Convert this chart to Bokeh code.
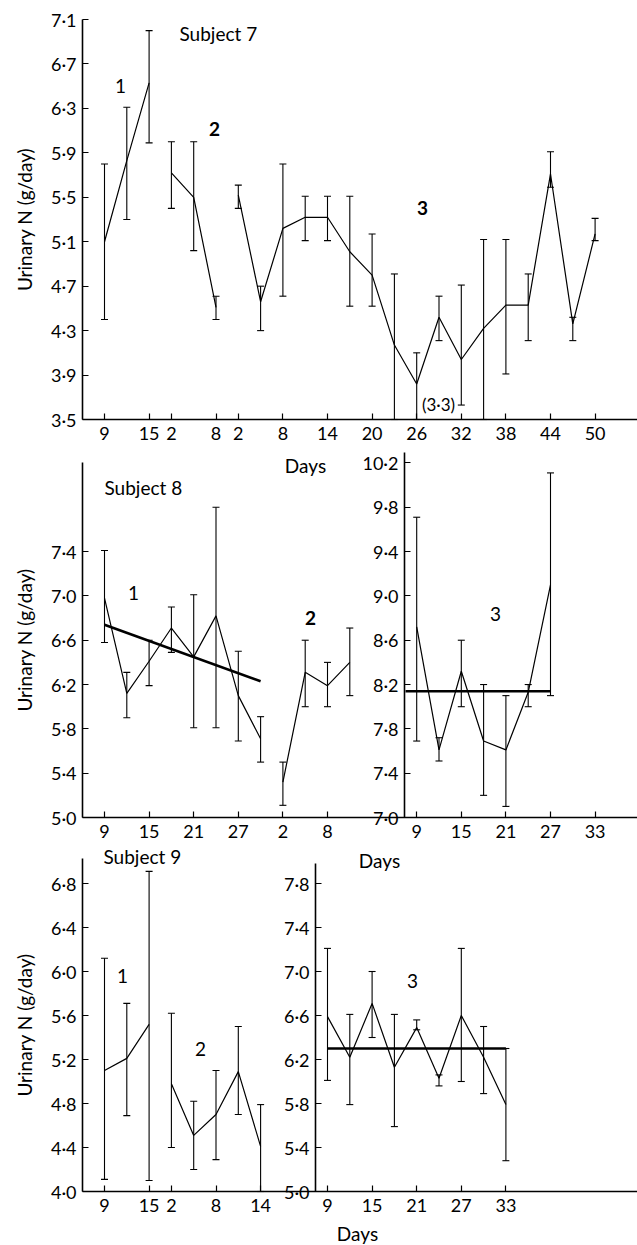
import numpy as np
from bokeh.plotting import figure
from bokeh.models import (Range1d, LinearAxis, FixedTicker, ColumnDataSource,
                          Whisker, TeeHead, Label)
from bokeh.embed import file_html
from bokeh.resources import INLINE

# ---------------- data ----------------
# Subject 7
s7_p1_days = [9, 12, 15]
s7_p1_n = [5.10, 5.83, 6.53]
s7_p1_lo = [4.40, 5.30, 5.99]
s7_p1_hi = [5.80, 6.31, 7.00]

s7_p2_days = [2, 5, 8]
s7_p2_n = [5.72, 5.50, 4.51]
s7_p2_lo = [5.40, 5.02, 4.40]
s7_p2_hi = [6.00, 6.00, 4.61]

s7_p3_days = [2, 5, 8, 11, 14, 17, 20, 23, 26, 29, 32, 35, 38, 41, 44, 47, 50]
s7_p3_n = [5.52, 4.56, 5.22, 5.32, 5.32, 5.01, 4.80, 4.17, 3.82, 4.42, 4.04,
           4.32, 4.53, 4.53, 5.71, 4.36, 5.17]
s7_p3_lo = [5.40, 4.30, 4.61, 5.11, 5.11, 4.52, 4.52, 3.50, 3.30, 4.21, 3.63,
            3.50, 3.91, 4.21, 5.59, 4.21, 5.11]
s7_p3_hi = [5.61, 4.70, 5.80, 5.51, 5.51, 5.51, 5.17, 4.81, 4.10, 4.61, 4.71,
            5.12, 5.12, 4.81, 5.91, 4.42, 5.31]

# Subject 8
s8_p1_days = [9, 12, 15, 18, 21, 24, 27, 30]
s8_p1_n = [6.98, 6.12, 6.41, 6.71, 6.45, 6.82, 6.10, 5.71]
s8_p1_lo = [6.58, 5.90, 6.19, 6.49, 5.81, 5.81, 5.69, 5.50]
s8_p1_hi = [7.41, 6.31, 6.60, 6.90, 7.01, 7.80, 6.50, 5.91]
s8_p1_trend_days = [9, 30]
s8_p1_trend_n = [6.74, 6.23]

s8_p2_days = [2, 5, 8, 11]
s8_p2_n = [5.32, 6.31, 6.19, 6.40]
s8_p2_lo = [5.11, 6.00, 6.00, 6.10]
s8_p2_hi = [5.50, 6.60, 6.40, 6.71]

s8_p3_days = [9, 12, 15, 18, 21, 24, 27]
s8_p3_n = [8.72, 7.61, 8.32, 7.69, 7.61, 8.13, 9.10]
s8_p3_lo = [7.69, 7.51, 8.00, 7.20, 7.10, 8.00, 8.10]
s8_p3_hi = [9.71, 7.72, 8.60, 8.20, 8.10, 8.20, 10.11]
s8_p3_trend_days = [7.5, 27]
s8_p3_trend_n = [8.14, 8.14]

# Subject 9
s9_p1_days = [9, 12, 15]
s9_p1_n = [5.10, 5.21, 5.52]
s9_p1_lo = [4.11, 4.69, 4.10]
s9_p1_hi = [6.12, 5.71, 6.91]

s9_p2_days = [2, 5, 8, 11, 14]
s9_p2_n = [4.98, 4.51, 4.70, 5.09, 4.41]
s9_p2_lo = [4.40, 4.20, 4.29, 4.70, 4.00]
s9_p2_hi = [5.62, 4.82, 5.10, 5.50, 4.79]

s9_p3_days = [9, 12, 15, 18, 21, 24, 27, 30, 33]
s9_p3_n = [6.59, 6.22, 6.71, 6.13, 6.49, 6.03, 6.60, 6.22, 5.79]
s9_p3_lo = [6.01, 5.79, 6.40, 5.59, 6.47, 5.96, 6.00, 5.89, 5.28]
s9_p3_hi = [7.21, 6.61, 7.00, 6.61, 6.56, 6.06, 7.21, 6.50, 6.30]
s9_p3_trend_days = [9, 33]
s9_p3_trend_n = [6.30, 6.30]

# tick labels (days shown on the x axes)
s7_xtick_days = ([9, 15], [2, 8], [2, 8, 14, 20, 26, 32, 38, 44, 50])
s8_xtick_days = ([9, 15, 21, 27], [2, 8], [9, 15, 21, 27, 33])
s9_xtick_days = ([9, 15], [2, 8, 14], [9, 15, 21, 27, 33])

s7_yticks = [3.5, 3.9, 4.3, 4.7, 5.1, 5.5, 5.9, 6.3, 6.7, 7.1]
s8a_yticks = [5.0, 5.4, 5.8, 6.2, 6.6, 7.0, 7.4]
s8b_yticks = [7.0, 7.4, 7.8, 8.2, 8.6, 9.0, 9.4, 9.8, 10.2]
s9a_yticks = [4.0, 4.4, 4.8, 5.2, 5.6, 6.0, 6.4, 6.8]
s9b_yticks = [5.0, 5.4, 5.8, 6.2, 6.6, 7.0, 7.4, 7.8]

YLABEL = "Urinary N (g/day)"

# ---------------- layout ----------------
W, H = 637, 1245
SLOT_PX = 22.3        # pixels per 3-day step
SLOT0_PX = 104.0      # pixel x of first slot
AXIS_PX = 82.0        # pixel x of the left axes
FONT = "Lato"
TICK_FS = "18px"
TEXT_FS = "19px"

# period placement: (slot offset, first day)
S7_PER = [(0, 9), (3, 2), (6, 2)]
S8_PER = [(0, 9), (8, 2), (14, 9)]
S9_PER = [(0, 9), (3, 2), (10, 9)]

# row vertical mapping: value at reference pixel y, pixels per unit
ROWS = {
    "s7": (3.5, 419.0, 111.1),
    "s8a": (5.0, 817.0, 110.8),
    "s8b": (7.0, 817.0, 110.8),
    "s9a": (4.0, 1191.0, 110.0),
    "s9b": (5.0, 1191.0, 110.0),
}


def sx(px):
    return (px - SLOT0_PX) / SLOT_PX


def vy(rng, py):
    v0, p0, ppu = ROWS[rng]
    return v0 + (p0 - py) / ppu


def slots(per, days):
    off, first = per
    return [off + (d - first) / 3.0 for d in days]


p = figure(width=W, height=H, output_backend="svg", toolbar_location=None,
           x_range=Range1d(sx(0), sx(W)), y_range=Range1d(0, H),
           x_axis_location=None, y_axis_location=None,
           min_border=0, outline_line_color=None)
p.min_border_left = p.min_border_right = p.min_border_top = p.min_border_bottom = 0
p.grid.visible = False
p.background_fill_color = "white"
p.border_fill_color = "white"

p.extra_y_ranges = {k: Range1d(start=vy(k, H), end=vy(k, 0)) for k in ROWS}

AX_STYLE = dict(axis_line_color="black", axis_line_width=1.6,
                major_tick_line_color="black", major_tick_line_width=1.2,
                major_tick_in=6, major_tick_out=0, minor_tick_line_color=None,
                major_label_text_font=FONT, major_label_text_font_size=TICK_FS,
                major_label_text_color="black",
                axis_label_text_font=FONT, axis_label_text_font_size=TEXT_FS,
                axis_label_text_font_style="normal", axis_label_text_color="black")


def fmt(v):
    return f"{v:.1f}".replace(".", "\u00b7")


def y_axis(rng, ticks, top_px, axis_px, label=None):
    ax = LinearAxis(y_range_name=rng, fixed_location=sx(axis_px),
                    bounds=(ticks[0], vy(rng, top_px)),
                    ticker=FixedTicker(ticks=ticks),
                    major_label_overrides={t: fmt(t) for t in ticks},
                    major_label_standoff=6, **AX_STYLE)
    if label:
        ax.axis_label = label
        ax.axis_label_standoff = 12
    p.add_layout(ax, "left")


def x_axis(rng, base, pers, tick_days):
    ticks, labels = [], []
    for per, days in zip(pers, tick_days):
        ticks += slots(per, days)
        labels += [str(d) for d in days]
    ax = LinearAxis(y_range_name=rng, fixed_location=base,
                    bounds=(sx(AXIS_PX), sx(W)),
                    ticker=FixedTicker(ticks=ticks),
                    major_label_overrides=dict(zip(ticks, labels)),
                    major_label_standoff=7, **AX_STYLE)
    p.add_layout(ax, "below")


def series(per, days, n, lo, hi, rng, floor):
    x = slots(per, days)
    src = ColumnDataSource(dict(x=x, n=n, lo=np.maximum(np.array(lo), floor), hi=hi))
    p.line("x", "n", source=src, y_range_name=rng, line_color="black", line_width=1.2)
    p.add_layout(Whisker(source=src, base="x", lower="lo", upper="hi",
                         dimension="height", y_range_name=rng,
                         line_color="black", line_width=1.1,
                         lower_head=TeeHead(size=7, line_width=1.1, line_color="black"),
                         upper_head=TeeHead(size=7, line_width=1.1, line_color="black")))


def trend(per, days, n, rng):
    p.line(slots(per, days), n, y_range_name=rng, line_color="black", line_width=2.6)


def txt(px_x, py, text, rng, size=TEXT_FS, align="center", style="normal"):
    p.add_layout(Label(x=sx(px_x), y=vy(rng, py), y_range_name=rng, text=text,
                       text_align=align, text_baseline="middle", text_font=FONT,
                       text_font_size=size, text_font_style=style, text_color="black"))


# ---- Subject 7 ----
y_axis("s7", s7_yticks, 19.0, AXIS_PX, YLABEL)
x_axis("s7", 3.5, S7_PER, s7_xtick_days)
series(S7_PER[0], s7_p1_days, s7_p1_n, s7_p1_lo, s7_p1_hi, "s7", 3.5)
series(S7_PER[1], s7_p2_days, s7_p2_n, s7_p2_lo, s7_p2_hi, "s7", 3.5)
series(S7_PER[2], s7_p3_days, s7_p3_n, s7_p3_lo, s7_p3_hi, "s7", 3.5)
txt(179, 33, "Subject 7", "s7", align="left")
txt(120, 85, "1", "s7")
txt(214, 128, "2", "s7", style="bold")
txt(422, 207, "3", "s7", style="bold")
txt(438, 404, "(3\u00b73)", "s7", size="17px")
txt(305, 465, "Days", "s7")

# ---- Subject 8 ----
y_axis("s8a", s8a_yticks, 462.0, AXIS_PX, YLABEL)
y_axis("s8b", s8b_yticks, 452.0, 404.0)
x_axis("s8a", 5.0, S8_PER, s8_xtick_days)
series(S8_PER[0], s8_p1_days, s8_p1_n, s8_p1_lo, s8_p1_hi, "s8a", 5.0)
series(S8_PER[1], s8_p2_days, s8_p2_n, s8_p2_lo, s8_p2_hi, "s8a", 5.0)
series(S8_PER[2], s8_p3_days, s8_p3_n, s8_p3_lo, s8_p3_hi, "s8b", 7.0)
trend(S8_PER[0], s8_p1_trend_days, s8_p1_trend_n, "s8a")
trend(S8_PER[2], s8_p3_trend_days, s8_p3_trend_n, "s8b")
txt(104, 487, "Subject 8", "s8a", align="left")
txt(133, 592, "1", "s8a")
txt(310, 617, "2", "s8a", style="bold")
txt(495, 613, "3", "s8b")
txt(379, 860, "Days", "s8a")

# ---- Subject 9 ----
y_axis("s9a", s9a_yticks, 858.0, AXIS_PX, YLABEL)
y_axis("s9b", s9b_yticks, 863.0, 315.0)
x_axis("s9a", 4.0, S9_PER, s9_xtick_days)
series(S9_PER[0], s9_p1_days, s9_p1_n, s9_p1_lo, s9_p1_hi, "s9a", 4.0)
series(S9_PER[1], s9_p2_days, s9_p2_n, s9_p2_lo, s9_p2_hi, "s9a", 4.0)
series(S9_PER[2], s9_p3_days, s9_p3_n, s9_p3_lo, s9_p3_hi, "s9b", 5.0)
trend(S9_PER[2], s9_p3_trend_days, s9_p3_trend_n, "s9b")
txt(103, 856, "Subject 9", "s9a", align="left")
txt(122, 975, "1", "s9a")
txt(200, 1048, "2", "s9a")
txt(412, 980, "3", "s9b")
txt(357, 1233, "Days", "s9a")

with open("out.html", "w", encoding="utf-8") as f:
    f.write(file_html(p, INLINE))
